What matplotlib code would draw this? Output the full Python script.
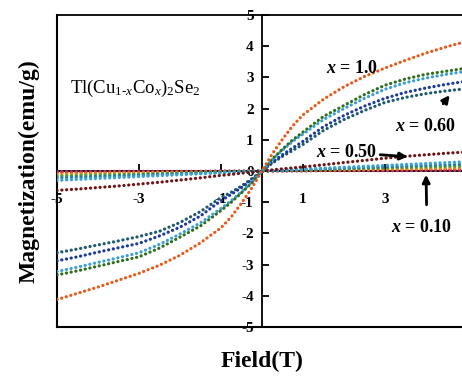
import matplotlib
matplotlib.use("Agg")
import matplotlib.pyplot as plt

plt.rcParams.update(
    {
        "font.family": "Liberation Serif",
        "font.weight": "bold",
        "axes.unicode_minus": False,
        "mathtext.fontset": "custom",
        "mathtext.rm": "Liberation Serif:weight=normal",
        "mathtext.it": "Liberation Serif:italic:weight=bold",
        "mathtext.sf": "Liberation Serif:italic:weight=normal",
        "mathtext.bf": "Liberation Serif:weight=bold",
    }
)

# applied field (T)
field = [-5, -4.5, -4, -3.5, -3, -2.5, -2, -1.5, -1, -0.75, -0.5, -0.25, 0,
         0.25, 0.5, 0.75, 1, 1.5, 2, 2.5, 3, 3.5, 4, 4.5, 5]

# strongly magnetic samples (emu/g)
m_x100 = [-4.12, -3.92, -3.72, -3.5, -3.28, -3.02, -2.7, -2.3, -1.82, -1.47, -1.03, -0.55, 0,
          0.55, 1.02, 1.45, 1.8, 2.3, 2.7, 3.03, 3.3, 3.55, 3.78, 3.98, 4.16]
m_green = [-3.33, -3.2, -3.05, -2.9, -2.75, -2.47, -2.12, -1.76, -1.27, -1.0, -0.7, -0.38, 0,
           0.38, 0.7, 1.0, 1.25, 1.75, 2.1, 2.45, 2.75, 2.95, 3.1, 3.2, 3.3]
m_cyan = [-3.22, -3.08, -2.93, -2.78, -2.62, -2.35, -2.02, -1.66, -1.2, -0.95, -0.67, -0.36, 0,
          0.36, 0.67, 0.95, 1.18, 1.65, 2.0, 2.33, 2.62, 2.83, 2.98, 3.1, 3.2]
m_navy = [-2.88, -2.75, -2.6, -2.46, -2.32, -2.08, -1.8, -1.44, -0.95, -0.75, -0.53, -0.28, 0,
          0.28, 0.52, 0.74, 0.95, 1.42, 1.78, 2.08, 2.33, 2.52, 2.66, 2.78, 2.88]
m_teal = [-2.62, -2.5, -2.37, -2.24, -2.1, -1.93, -1.65, -1.3, -0.85, -0.68, -0.48, -0.25, 0,
          0.25, 0.47, 0.66, 0.85, 1.3, 1.65, 1.94, 2.2, 2.36, 2.48, 2.57, 2.64]

# weakly magnetic samples (emu/g)
m_x050 = [-0.62, -0.58, -0.53, -0.48, -0.42, -0.36, -0.29, -0.22, -0.14, -0.11, -0.07, -0.035, 0,
          0.035, 0.07, 0.1, 0.13, 0.2, 0.27, 0.34, 0.41, 0.47, 0.52, 0.57, 0.61]
w_cyan = [-0.30, -0.27, -0.24, -0.21, -0.18, -0.15, -0.12, -0.09, -0.06, -0.045, -0.03, -0.015, 0,
          0.015, 0.03, 0.045, 0.06, 0.09, 0.12, 0.15, 0.18, 0.21, 0.24, 0.27, 0.30]
w_teal = [-0.22, -0.2, -0.18, -0.155, -0.135, -0.11, -0.09, -0.065, -0.045, -0.035, -0.02, -0.01, 0,
          0.01, 0.02, 0.035, 0.045, 0.065, 0.09, 0.11, 0.135, 0.155, 0.18, 0.2, 0.22]
w_green = [-0.16, -0.145, -0.13, -0.115, -0.10, -0.08, -0.065, -0.05, -0.03, -0.025, -0.015, -0.01, 0,
           0.01, 0.015, 0.025, 0.03, 0.05, 0.065, 0.08, 0.10, 0.115, 0.13, 0.145, 0.16]
w_orange = [-0.10, -0.09, -0.08, -0.07, -0.06, -0.05, -0.04, -0.03, -0.02, -0.015, -0.01, -0.005, 0,
            0.005, 0.01, 0.015, 0.02, 0.03, 0.04, 0.05, 0.06, 0.07, 0.08, 0.09, 0.10]
w_red = [-0.05, -0.045, -0.04, -0.035, -0.03, -0.025, -0.02, -0.015, -0.01, -0.008, -0.005, -0.003, 0,
         0.003, 0.005, 0.008, 0.01, 0.015, 0.02, 0.025, 0.03, 0.035, 0.04, 0.045, 0.05]
w_purple = [-0.02, -0.02, -0.02, -0.01, -0.01, -0.01, -0.01, -0.01, 0, 0, 0, 0, 0,
            0, 0, 0, 0, 0.01, 0.01, 0.01, 0.01, 0.01, 0.02, 0.02, 0.02]

weak = [
    (w_purple, "#b02f86"),
    (w_red, "#d8262e"),
    (w_orange, "#f08a1c"),
    (w_green, "#4f9a35"),
    (w_teal, "#2380a8"),
    (w_cyan, "#39a3d6"),
    (m_x050, "#6e1414"),
]
strong = [
    (m_teal, "#1d5a70"),
    (m_navy, "#1c3a9c"),
    (m_cyan, "#3b9fd6"),
    (m_green, "#2f6e1c"),
    (m_x100, "#e85a1c"),
]

fig = plt.figure(figsize=(4.62, 3.81), dpi=100)
ax = fig.add_axes([57 / 462, 54 / 381, 410 / 462, 312 / 381])

dots = dict(linestyle=(0, (0.05, 1.45)), dash_capstyle="round", linewidth=2.3, zorder=3)
for m, c in weak + strong:
    ax.plot(field, m, color=c, **dots)

ax.set_xlim(-5, 5)
ax.set_ylim(-5, 5)

# axes cross at the origin, plus an outer frame
ax.spines["left"].set_position(("data", 0))
ax.spines["bottom"].set_position(("data", 0))
for s in ax.spines.values():
    s.set_linewidth(1.3)
ax.axhline(-5, color="black", lw=1.5, clip_on=False, zorder=2.5)
ax.axvline(-5, color="black", lw=1.5, clip_on=False, zorder=2.5)
ax.set_axisbelow(True)

ax.set_xticks([-5, -3, -1, 1, 3, 5])
ax.set_yticks(range(-5, 6))
ax.tick_params(direction="in", length=5, width=1.3, labelsize=11)
ax.tick_params(axis="x", pad=16)
ax.tick_params(axis="y", pad=6)

ax.set_xlabel("Field(T)", fontsize=17, fontweight="bold")
ax.set_ylabel("Magnetization(emu/g)", fontsize=17, fontweight="bold")
ax.xaxis.set_label_coords(0.5, -0.075)
ax.yaxis.set_label_coords(-0.043, 0.5)

ax.text(-4.68, 2.66, r"Tl(Cu$_{1\text{-}\mathsf{x}}$Co$_{\mathsf{x}}$)$_{2}$Se$_{2}$",
        fontsize=13.5, fontweight="normal", va="center", ha="left")

lab = dict(fontsize=13, fontweight="bold", va="center", ha="center")
arrow = dict(arrowstyle="-|>", color="black", lw=2, mutation_scale=11)
ax.text(2.2, 3.3, r"$\mathit{x}$ = 1.0", **lab)
ax.annotate(r"$\mathit{x}$ = 0.60", xy=(4.62, 2.5), xytext=(4.0, 1.44),
            arrowprops=dict(arrow, shrinkA=10), **lab)
ax.annotate(r"$\mathit{x}$ = 0.50", xy=(3.62, 0.45), xytext=(2.07, 0.6),
            arrowprops=dict(arrow, shrinkA=28), **lab)
ax.annotate(r"$\mathit{x}$ = 0.10", xy=(4.0, -0.03), xytext=(3.9, -1.8),
            arrowprops=dict(arrow, shrinkA=8, relpos=(0.58, 1.0)), **lab)

fig.savefig("out.png", dpi=100)
